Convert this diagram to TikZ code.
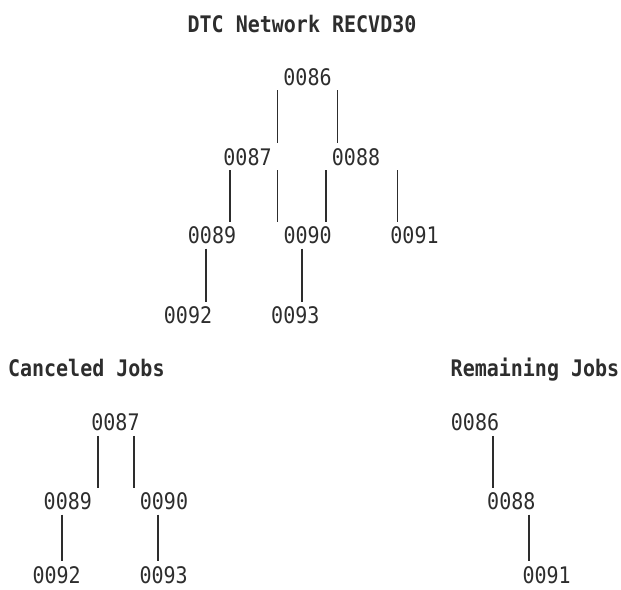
\documentclass[tikz,border=0pt]{standalone}
\usepackage{graphicx}
\usepackage{fontspec}
\setmonofont{DejaVu Sans Mono}
\definecolor{ink}{RGB}{45,45,45}
\newcommand\jobtxt[1]{\scalebox{1}[1.14]{#1}}
\begin{document}
\begin{tikzpicture}[x=1pt,y=-1pt,
  job/.style={font=\fontsize{20}{24}\selectfont\ttfamily, text=ink, inner sep=0pt,
    text height=21.5pt, text depth=5pt, anchor=base},
  leaf/.style={job, text depth=0pt},
  heading/.style={font=\fontsize{20}{24}\selectfont\ttfamily\bfseries, text=ink, inner sep=0pt, anchor=base},
  link/.style={draw=ink, line width=1.8pt}]
\useasboundingbox (0,0) rectangle (621,589);
% titles
\node[heading] (t1) at (302,32) {\jobtxt{DTC Network RECVD30}};
\node[heading] (t2) at (86.3,376.7) {\jobtxt{Canceled Jobs}};
\node[heading] (t3) at (535,376.7) {\jobtxt{Remaining Jobs}};
% full network
\node[job] (n86) at (307.5,85) {\jobtxt{0086}};
\node[job] (n87) at (247.5,165) {\jobtxt{0087}};
\node[job] (n88) at (356,165) {\jobtxt{0088}};
\node[job] (n89) at (212,243.3) {\jobtxt{0089}};
\node[job] (n90) at (307.7,243.3) {\jobtxt{0090}};
\node[job] (n91) at (414.5,243.3) {\jobtxt{0091}};
\node[job] (n92) at (188,323.3) {\jobtxt{0092}};
\node[job] (n93) at (295.3,323.3) {\jobtxt{0093}};
% canceled
\node[job] (c87) at (115.5,430.7) {\jobtxt{0087}};
\node[job] (c89) at (67.8,509.3) {\jobtxt{0089}};
\node[job] (c90) at (164,509.3) {\jobtxt{0090}};
\node[leaf] (c92) at (56.7,583) {\jobtxt{0092}};
\node[leaf] (c93) at (163.7,583) {\jobtxt{0093}};
% remaining
\node[job] (r86) at (475,430.7) {\jobtxt{0086}};
\node[job] (r88) at (511.3,509.3) {\jobtxt{0088}};
\node[leaf] (r91) at (546.7,583) {\jobtxt{0091}};
% connectors
\draw[link] ([xshift=-30pt]n86.south) -- ([xshift=-30pt]n86.south |- n87.north);
\draw[link] ([xshift=30pt]n86.south) -- ([xshift=30pt]n86.south |- n88.north);
\draw[link] ([xshift=-17.5pt]n87.south) -- ([xshift=-17.5pt]n87.south |- n89.north);
\draw[link] ([xshift=30pt]n87.south) -- ([xshift=30pt]n87.south |- n90.north);
\draw[link] ([xshift=-30pt]n88.south) -- ([xshift=-30pt]n88.south |- n90.north);
\draw[link] ([xshift=41.5pt]n88.south) -- ([xshift=41.5pt]n88.south |- n91.north);
\draw[link] ([xshift=-6pt]n89.south) -- ([xshift=-6pt]n89.south |- n92.north);
\draw[link] ([xshift=-6pt]n90.south) -- ([xshift=-6pt]n90.south |- n93.north);
\draw[link] ([xshift=-17.8pt]c87.south) -- ([xshift=-17.8pt]c87.south |- c89.north);
\draw[link] ([xshift=18.8pt]c87.south) -- ([xshift=18.8pt]c87.south |- c90.north);
\draw[link] ([xshift=-5.5pt]c89.south) -- ([xshift=-5.5pt]c89.south |- c92.north);
\draw[link] ([xshift=-6.3pt]c90.south) -- ([xshift=-6.3pt]c90.south |- c93.north);
\draw[link] ([xshift=18.3pt]r86.south) -- ([xshift=18.3pt]r86.south |- r88.north);
\draw[link] ([xshift=18pt]r88.south) -- ([xshift=18pt]r88.south |- r91.north);
\end{tikzpicture}
\end{document}
